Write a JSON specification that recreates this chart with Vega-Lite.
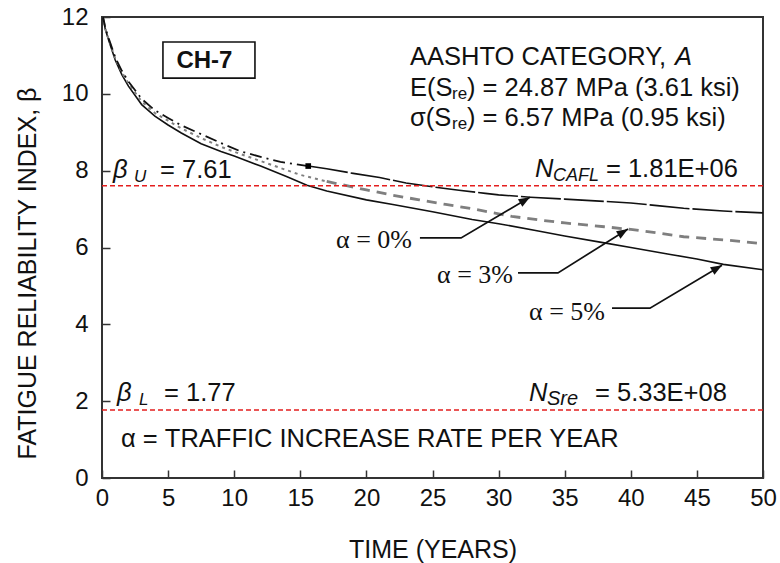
{
  "$schema": "https://vega.github.io/schema/vega-lite/v6.json",
  "width": 661,
  "height": 461,
  "autosize": {"type": "none"},
  "padding": {"left": 102, "top": 17, "right": 17, "bottom": 85},
  "background": "white",
  "config": {
    "view": {"stroke": "#333333", "strokeWidth": 2},
    "axis": {
      "grid": false,
      "domain": false,
      "tickSize": -8,
      "tickColor": "#333333",
      "tickWidth": 1.5,
      "labelFlush": false,
      "labelFont": "Liberation Sans",
      "labelFontSize": 24,
      "labelColor": "#111111",
      "titleFont": "Liberation Sans",
      "titleFontSize": 25,
      "titleFontWeight": "normal",
      "titleColor": "#111111"
    },
    "text": {"font": "Liberation Sans", "fontSize": 25.5, "color": "#111111", "align": "left", "baseline": "alphabetic"}
  },
  "data": {"values": [{}]},
  "datasets": {
    "curves": [
      {"s": "0%", "t": 0.05, "b": 12.05}, {"s": "0%", "t": 0.25, "b": 11.72}, {"s": "0%", "t": 0.5, "b": 11.45},
      {"s": "0%", "t": 1, "b": 10.95}, {"s": "0%", "t": 1.5, "b": 10.6}, {"s": "0%", "t": 2, "b": 10.32},
      {"s": "0%", "t": 3, "b": 9.87}, {"s": "0%", "t": 4, "b": 9.57}, {"s": "0%", "t": 5, "b": 9.37},
      {"s": "0%", "t": 6, "b": 9.18}, {"s": "0%", "t": 7.5, "b": 8.95}, {"s": "0%", "t": 9, "b": 8.72},
      {"s": "0%", "t": 10.5, "b": 8.5}, {"s": "0%", "t": 12, "b": 8.36}, {"s": "0%", "t": 13.5, "b": 8.23},
      {"s": "0%", "t": 15.6, "b": 8.12}, {"s": "0%", "t": 17, "b": 8.05}, {"s": "0%", "t": 19, "b": 7.93},
      {"s": "0%", "t": 21, "b": 7.82}, {"s": "0%", "t": 23, "b": 7.68}, {"s": "0%", "t": 25, "b": 7.58},
      {"s": "0%", "t": 27, "b": 7.49}, {"s": "0%", "t": 29, "b": 7.41}, {"s": "0%", "t": 30, "b": 7.37},
      {"s": "0%", "t": 32.4, "b": 7.31}, {"s": "0%", "t": 35, "b": 7.26}, {"s": "0%", "t": 38, "b": 7.2},
      {"s": "0%", "t": 40, "b": 7.16}, {"s": "0%", "t": 42, "b": 7.09}, {"s": "0%", "t": 44, "b": 7.02},
      {"s": "0%", "t": 47, "b": 6.95}, {"s": "0%", "t": 50, "b": 6.9},
      {"s": "3%", "t": 0.05, "b": 12.05}, {"s": "3%", "t": 0.25, "b": 11.7}, {"s": "3%", "t": 0.5, "b": 11.42},
      {"s": "3%", "t": 1, "b": 10.92}, {"s": "3%", "t": 1.5, "b": 10.56}, {"s": "3%", "t": 2, "b": 10.27},
      {"s": "3%", "t": 3, "b": 9.8}, {"s": "3%", "t": 4, "b": 9.5}, {"s": "3%", "t": 5, "b": 9.3},
      {"s": "3%", "t": 6, "b": 9.1}, {"s": "3%", "t": 7.5, "b": 8.85}, {"s": "3%", "t": 9, "b": 8.62},
      {"s": "3%", "t": 10.5, "b": 8.43}, {"s": "3%", "t": 12, "b": 8.25}, {"s": "3%", "t": 13.5, "b": 8.07},
      {"s": "3%", "t": 15, "b": 7.89}, {"s": "3%", "t": 17, "b": 7.72}, {"s": "3%", "t": 20, "b": 7.5},
      {"s": "3%", "t": 22, "b": 7.36}, {"s": "3%", "t": 24, "b": 7.24}, {"s": "3%", "t": 26, "b": 7.12},
      {"s": "3%", "t": 28, "b": 7.01}, {"s": "3%", "t": 31, "b": 6.81}, {"s": "3%", "t": 33, "b": 6.72},
      {"s": "3%", "t": 35, "b": 6.64}, {"s": "3%", "t": 38, "b": 6.54}, {"s": "3%", "t": 40, "b": 6.47},
      {"s": "3%", "t": 42, "b": 6.38}, {"s": "3%", "t": 44, "b": 6.28}, {"s": "3%", "t": 47, "b": 6.2},
      {"s": "3%", "t": 50, "b": 6.1},
      {"s": "5%", "t": 0.05, "b": 12.05}, {"s": "5%", "t": 0.25, "b": 11.68}, {"s": "5%", "t": 0.5, "b": 11.4},
      {"s": "5%", "t": 1, "b": 10.88}, {"s": "5%", "t": 1.5, "b": 10.5}, {"s": "5%", "t": 2, "b": 10.2},
      {"s": "5%", "t": 3, "b": 9.72}, {"s": "5%", "t": 4, "b": 9.42}, {"s": "5%", "t": 5, "b": 9.19},
      {"s": "5%", "t": 6, "b": 8.98}, {"s": "5%", "t": 7.5, "b": 8.7}, {"s": "5%", "t": 9, "b": 8.5},
      {"s": "5%", "t": 10, "b": 8.38}, {"s": "5%", "t": 12, "b": 8.12}, {"s": "5%", "t": 14, "b": 7.84},
      {"s": "5%", "t": 15.5, "b": 7.62}, {"s": "5%", "t": 17, "b": 7.47}, {"s": "5%", "t": 20, "b": 7.24},
      {"s": "5%", "t": 22, "b": 7.12}, {"s": "5%", "t": 25, "b": 6.93}, {"s": "5%", "t": 28, "b": 6.73},
      {"s": "5%", "t": 30, "b": 6.62}, {"s": "5%", "t": 33, "b": 6.43}, {"s": "5%", "t": 35, "b": 6.3},
      {"s": "5%", "t": 38, "b": 6.12}, {"s": "5%", "t": 40, "b": 6.0}, {"s": "5%", "t": 43, "b": 5.82},
      {"s": "5%", "t": 45, "b": 5.7}, {"s": "5%", "t": 47, "b": 5.56}, {"s": "5%", "t": 50, "b": 5.42}
    ],
    "limits": [
      {"name": "upper", "b": 7.61},
      {"name": "lower", "b": 1.77}
    ],
    "leaders": [
      {"a": "0%", "k": 1, "t": 24.05, "b": 6.25}, {"a": "0%", "k": 2, "t": 27.16, "b": 6.25}, {"a": "0%", "k": 3, "t": 32.37, "b": 7.31},
      {"a": "3%", "k": 1, "t": 31.47, "b": 5.34}, {"a": "3%", "k": 2, "t": 34.49, "b": 5.34}, {"a": "3%", "k": 3, "t": 39.79, "b": 6.48},
      {"a": "5%", "k": 1, "t": 38.58, "b": 4.42}, {"a": "5%", "k": 2, "t": 41.45, "b": 4.42}, {"a": "5%", "k": 3, "t": 46.9, "b": 5.54}
    ],
    "marker": [{"t": 15.6, "b": 8.12}]
  },
  "layer": [
    {
      "data": {"name": "curves"},
      "transform": [{"filter": "datum.s === '5%'"}],
      "mark": {"type": "line", "color": "#111111", "strokeWidth": 1.6, "clip": true},
      "encoding": {
        "x": {"field": "t", "type": "quantitative", "scale": {"domain": [0, 50], "nice": false, "zero": false},
              "axis": {"title": "TIME (YEARS)", "values": [0, 5, 10, 15, 20, 25, 30, 35, 40, 45, 50], "labelPadding": 16, "titleY": 79, "titleBaseline": "alphabetic"}},
        "y": {"field": "b", "type": "quantitative", "scale": {"domain": [0, 12], "nice": false},
              "axis": {"title": "FATIGUE RELIABILITY INDEX, β", "values": [0, 2, 4, 6, 8, 10, 12], "labelPadding": 22, "titleX": -67, "titleY": 256, "titleBaseline": "alphabetic"}},
        "order": {"field": "t", "type": "quantitative"}
      }
    },
    {
      "data": {"name": "curves"},
      "transform": [{"filter": "datum.s === '3%' && datum.t <= 17"}],
      "mark": {"type": "line", "color": "#7f7f7f", "strokeWidth": 2, "strokeDash": [3, 4], "clip": true},
      "encoding": {"x": {"field": "t", "type": "quantitative"}, "y": {"field": "b", "type": "quantitative"}, "order": {"field": "t", "type": "quantitative"}}
    },
    {
      "data": {"name": "curves"},
      "transform": [{"filter": "datum.s === '3%' && datum.t >= 17"}],
      "mark": {"type": "line", "color": "#7f7f7f", "strokeWidth": 2.8, "strokeDash": [10, 7], "clip": true},
      "encoding": {"x": {"field": "t", "type": "quantitative"}, "y": {"field": "b", "type": "quantitative"}, "order": {"field": "t", "type": "quantitative"}}
    },
    {
      "data": {"name": "curves"},
      "transform": [{"filter": "datum.s === '0%' && datum.t <= 15.6"}],
      "mark": {"type": "line", "color": "#111111", "strokeWidth": 1.8, "strokeDash": [12, 5, 2, 5], "clip": true},
      "encoding": {"x": {"field": "t", "type": "quantitative"}, "y": {"field": "b", "type": "quantitative"}, "order": {"field": "t", "type": "quantitative"}}
    },
    {
      "data": {"name": "curves"},
      "transform": [{"filter": "datum.s === '0%' && datum.t >= 15.6"}],
      "mark": {"type": "line", "color": "#111111", "strokeWidth": 1.6, "strokeDash": [40, 3], "clip": true},
      "encoding": {"x": {"field": "t", "type": "quantitative"}, "y": {"field": "b", "type": "quantitative"}, "order": {"field": "t", "type": "quantitative"}}
    },
    {
      "data": {"name": "marker"},
      "mark": {"type": "point", "shape": "square", "filled": true, "color": "#000000", "size": 32, "opacity": 1},
      "encoding": {"x": {"field": "t", "type": "quantitative"}, "y": {"field": "b", "type": "quantitative"}}
    },
    {
      "data": {"name": "limits"},
      "mark": {"type": "rule", "color": "#e41e1e", "strokeWidth": 1.5, "strokeDash": [5, 3]},
      "encoding": {"y": {"field": "b", "type": "quantitative"}}
    },
    {
      "data": {"name": "leaders"},
      "mark": {"type": "line", "color": "#111111", "strokeWidth": 1.7},
      "encoding": {"x": {"field": "t", "type": "quantitative"}, "y": {"field": "b", "type": "quantitative"}, "detail": {"field": "a"}, "order": {"field": "k", "type": "quantitative"}}
    },
    {
      "data": {"name": "leaders"},
      "transform": [{"filter": "datum.k === 3"}],
      "mark": {"type": "point", "shape": "M0,0L-1,-0.38L-1,0.38Z", "filled": true, "color": "#111111", "size": 520, "angle": 329, "opacity": 1},
      "encoding": {"x": {"field": "t", "type": "quantitative"}, "y": {"field": "b", "type": "quantitative"}}
    },
    {
      "mark": {"type": "rect", "fill": "white", "stroke": "#111111", "strokeWidth": 1.6},
      "encoding": {"x": {"datum": 4.61}, "x2": {"datum": 11.57}, "y": {"datum": 11.35}, "y2": {"datum": 10.41}}
    },
    {
      "mark": {"type": "text", "text": "CH-7", "fontWeight": "bold", "fontSize": 24, "align": "center"},
      "encoding": {"x": {"datum": 7.75}, "y": {"datum": 10.67}}
    },
    {
      "mark": {"type": "text", "text": "AASHTO CATEGORY,"},
      "encoding": {"x": {"datum": 23.3}, "y": {"datum": 10.75}}
    },
    {
      "mark": {"type": "text", "text": "A", "fontStyle": "italic", "dx": 265},
      "encoding": {"x": {"datum": 23.3}, "y": {"datum": 10.75}}
    },
    {
      "mark": {"type": "text", "text": "E(S"},
      "encoding": {"x": {"datum": 23.3}, "y": {"datum": 9.943}}
    },
    {
      "mark": {"type": "text", "text": "re", "fontSize": 17, "dx": 42, "dy": 3},
      "encoding": {"x": {"datum": 23.3}, "y": {"datum": 9.943}}
    },
    {
      "mark": {"type": "text", "text": ") = 24.87 MPa (3.61 ksi)", "dx": 57},
      "encoding": {"x": {"datum": 23.3}, "y": {"datum": 9.943}}
    },
    {
      "mark": {"type": "text", "text": "σ(S"},
      "encoding": {"x": {"datum": 23.3}, "y": {"datum": 9.162}}
    },
    {
      "mark": {"type": "text", "text": "re", "fontSize": 17, "dx": 42, "dy": 3},
      "encoding": {"x": {"datum": 23.3}, "y": {"datum": 9.162}}
    },
    {
      "mark": {"type": "text", "text": ") = 6.57 MPa (0.95 ksi)", "dx": 57},
      "encoding": {"x": {"datum": 23.3}, "y": {"datum": 9.162}}
    },
    {
      "mark": {"type": "text", "text": "β", "fontStyle": "italic"},
      "encoding": {"x": {"datum": 0.832}, "y": {"datum": 7.808}}
    },
    {
      "mark": {"type": "text", "text": "U", "fontStyle": "italic", "fontSize": 17, "dx": 21, "dy": 4},
      "encoding": {"x": {"datum": 0.832}, "y": {"datum": 7.808}}
    },
    {
      "mark": {"type": "text", "text": "= 7.61", "dx": 47},
      "encoding": {"x": {"datum": 0.832}, "y": {"datum": 7.808}}
    },
    {
      "mark": {"type": "text", "text": "β", "fontStyle": "italic"},
      "encoding": {"x": {"datum": 1.135}, "y": {"datum": 2.004}}
    },
    {
      "mark": {"type": "text", "text": "L", "fontStyle": "italic", "fontSize": 17, "dx": 22, "dy": 4},
      "encoding": {"x": {"datum": 1.135}, "y": {"datum": 2.004}}
    },
    {
      "mark": {"type": "text", "text": "= 1.77", "dx": 47},
      "encoding": {"x": {"datum": 1.135}, "y": {"datum": 2.004}}
    },
    {
      "mark": {"type": "text", "text": "N", "fontStyle": "italic"},
      "encoding": {"x": {"datum": 32.75}, "y": {"datum": 7.834}}
    },
    {
      "mark": {"type": "text", "text": "CAFL", "fontStyle": "italic", "fontSize": 18, "dx": 18, "dy": 4},
      "encoding": {"x": {"datum": 32.75}, "y": {"datum": 7.834}}
    },
    {
      "mark": {"type": "text", "text": "= 1.81E+06", "dx": 71},
      "encoding": {"x": {"datum": 32.75}, "y": {"datum": 7.834}}
    },
    {
      "mark": {"type": "text", "text": "N", "fontStyle": "italic"},
      "encoding": {"x": {"datum": 32.3}, "y": {"datum": 2.004}}
    },
    {
      "mark": {"type": "text", "text": "Sre", "fontStyle": "italic", "fontSize": 20, "dx": 18, "dy": 4},
      "encoding": {"x": {"datum": 32.3}, "y": {"datum": 2.004}}
    },
    {
      "mark": {"type": "text", "text": "= 5.33E+08", "dx": 66},
      "encoding": {"x": {"datum": 32.3}, "y": {"datum": 2.004}}
    },
    {
      "mark": {"type": "text", "text": "α = TRAFFIC INCREASE RATE PER YEAR"},
      "encoding": {"x": {"datum": 1.437}, "y": {"datum": 0.807}}
    },
    {
      "mark": {"type": "text", "text": "α = 0%", "font": "Liberation Serif", "fontSize": 26, "align": "right"},
      "encoding": {"x": {"datum": 23.45}, "y": {"datum": 5.99}}
    },
    {
      "mark": {"type": "text", "text": "α = 3%", "font": "Liberation Serif", "fontSize": 26, "align": "right"},
      "encoding": {"x": {"datum": 31.09}, "y": {"datum": 5.08}}
    },
    {
      "mark": {"type": "text", "text": "α = 5%", "font": "Liberation Serif", "fontSize": 26, "align": "right"},
      "encoding": {"x": {"datum": 38.05}, "y": {"datum": 4.11}}
    }
  ]
}
